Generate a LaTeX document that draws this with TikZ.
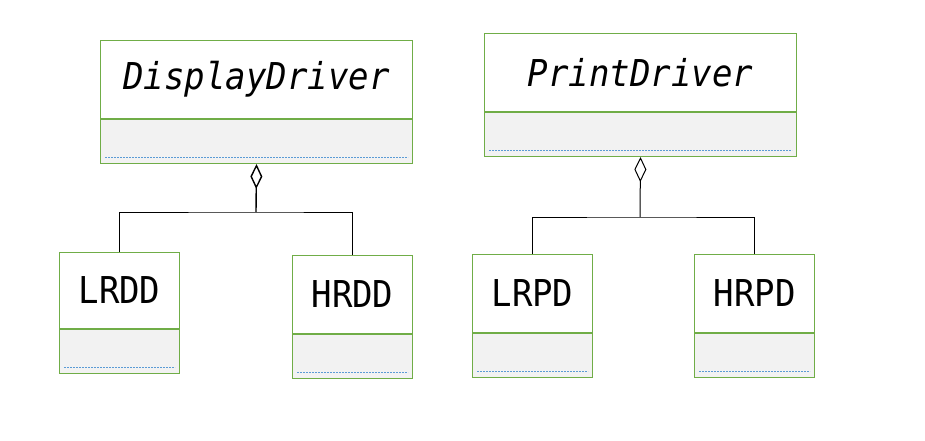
\documentclass[tikz,border=0pt]{standalone}
\usepackage{fontspec}
\usepackage{tikz}
\usetikzlibrary{arrows.meta,positioning}
\newfontfamily\umlfont{DejaVu Sans Mono}[FakeStretch=0.92,ItalicFont={DejaVu Sans Mono Oblique}]
\definecolor{umlgreen}{HTML}{70AD47}
\definecolor{umlgray}{HTML}{F2F2F2}
\definecolor{umlblue}{HTML}{5B9BD5}

\begin{document}
\begin{tikzpicture}[
  x=1pt,y=-1pt,
  cls/.style={draw=umlgreen,line width=1pt,fill=white,inner sep=0pt,anchor=north west,
              font=\umlfont\fontsize{37}{40}\selectfont,minimum height=78pt},
  big/.style={cls,minimum width=312pt},
  small/.style={cls,minimum width=120pt},
  comp/.style={draw=umlgreen,line width=1pt,fill=umlgray,inner sep=0pt,minimum height=44pt},
  attr/.style={umlblue,dash pattern=on 2pt off 1pt,line width=0.8pt},
  agg/.style={-{Diamond[open,length=25pt,width=12pt]},line width=1pt}
]
\useasboundingbox (0,0) rectangle (925,441);
\node[big] (dd) at (100,40) {\itshape DisplayDriver};
\node[comp,minimum width=312pt,below=0pt of dd] (dd-c) {};
\node[big] (pd) at (484,33) {\itshape PrintDriver};
\node[comp,minimum width=312pt,below=0pt of pd] (pd-c) {};
\node[small,minimum height=76pt] (lrdd) at (59,252) {LRDD};
\node[comp,minimum width=120pt,below=0pt of lrdd] (lrdd-c) {};
\node[small] (hrdd) at (292,255) {HRDD};
\node[comp,minimum width=120pt,below=0pt of hrdd] (hrdd-c) {};
\node[small] (lrpd) at (472,254) {LRPD};
\node[comp,minimum width=120pt,below=0pt of lrpd] (lrpd-c) {};
\node[small] (hrpd) at (694,254) {HRPD};
\node[comp,minimum width=120pt,below=0pt of hrpd] (hrpd-c) {};
\foreach \c in {dd-c,pd-c,lrdd-c,hrdd-c,lrpd-c,hrpd-c}
  \draw[attr] ([xshift=5pt,yshift=7pt]\c.south west) -- ([xshift=-5pt,yshift=7pt]\c.south east);
\coordinate (dd-j) at (256,212);
\coordinate (pd-j) at (640,217);
\draw[agg,line width=1.4pt] (dd-j) -- (dd-c.south);
\draw[line width=1pt] (lrdd.north) |- (dd-j) -| (hrdd.north);
\draw[agg] (pd-j) -- (pd-c.south);
\draw[line width=1pt] (lrpd.north) |- (pd-j) -| (hrpd.north);
\end{tikzpicture}
\end{document}
